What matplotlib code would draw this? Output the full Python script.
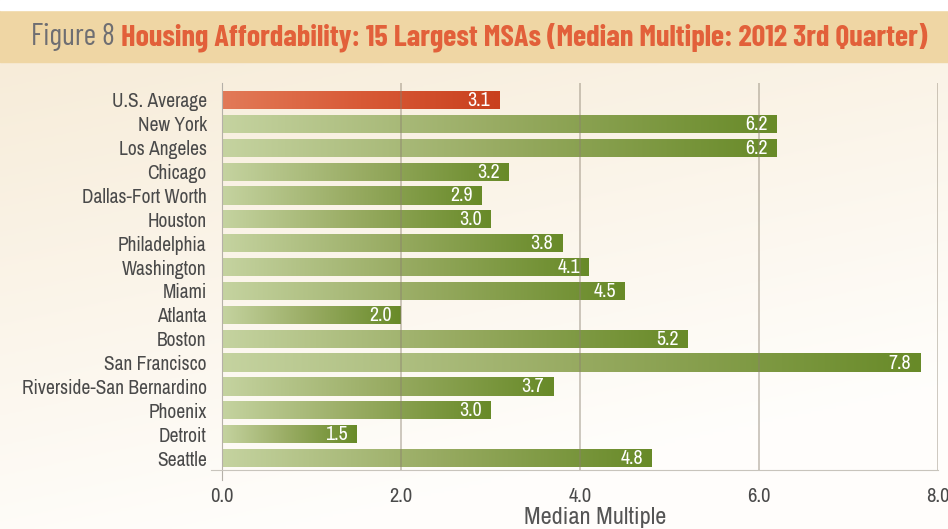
import numpy as np
import matplotlib
matplotlib.use("Agg")
import matplotlib.pyplot as plt
from matplotlib.colors import LinearSegmentedColormap

categories = ["U.S. Average", "New York", "Los Angeles", "Chicago", "Dallas-Fort Worth",
              "Houston", "Philadelphia", "Washington", "Miami", "Atlanta", "Boston",
              "San Francisco", "Riverside-San Bernardino", "Phoenix", "Detroit", "Seattle"]
values = [3.1, 6.2, 6.2, 3.2, 2.9, 3.0, 3.8, 4.1, 4.5, 2.0, 5.2, 7.8, 3.7, 3.0, 1.5, 4.8]
xticks = [0.0, 2.0, 4.0, 6.0, 8.0]
xtick_labels = ["0.0", "2.0", "4.0", "6.0", "8.0"]
title_prefix = "Figure 8 "
title_main = "Housing Affordability: 15 Largest MSAs (Median Multiple: 2012 3rd Quarter)"
xlabel = "Median Multiple"

TFONT = ["Barlow Condensed", "DejaVu Sans"]
FONT = ["Archivo Narrow", "DejaVu Sans"]
plt.rcParams["font.family"] = FONT

W, H = 948, 529
fig = plt.figure(figsize=(W / 100, H / 100), dpi=100)

# background
bg = fig.add_axes([0, 0, 1, 1], zorder=-10)
bg.set_axis_off()
yy = np.linspace(0, 1, 200)[:, None]
xx = np.linspace(0, 1, 300)[None, :]
c_top = np.array([0.965, 0.918, 0.835])
c_bot = np.array([1.0, 0.995, 0.985])
t = np.clip((yy) * 0.9 + xx * 0.35, 0, 1)[..., None]
img = c_top * (1 - t) + c_bot * t
bg.imshow(img, extent=[0, 1, 0, 1], aspect="auto", origin="upper")
bg.add_patch(plt.Rectangle((0.0, 1 - 62 / H), 1, 52 / H, color="#efd6a4", zorder=2))
bg.add_patch(plt.Rectangle((0.0, 1 - 10 / H), 1, 10 / H, color="white", zorder=3))
bg.set_xlim(0, 1)
bg.set_ylim(0, 1)

# title, fitted to span the reference width
fs = 20
tx0, tx1 = 31, 928
ty = 1 - 37 / H
t1 = fig.text(tx0 / W, ty, title_prefix, color="#6e6e72", fontsize=fs,
              va="center", ha="left", family=TFONT)
fig.canvas.draw()
r = fig.canvas.get_renderer()
bb = t1.get_window_extent(r)
t2 = fig.text(bb.x1 / W, ty, title_main, color="#e2603a", fontsize=fs,
              fontweight="bold", va="center", ha="left", family=TFONT)
bb2 = t2.get_window_extent(r)
scale = (tx1 - tx0) / (bb2.x1 - bb.x0)
t1.set_fontsize(fs * scale)
t2.set_fontsize(fs * scale)
bb = t1.get_window_extent(r)
t2.set_x(bb.x1 / W)

left, right = 222 / W, 938 / W
bottom, top = 1 - 470 / H, 1 - 83 / H
ax = fig.add_axes([left, bottom, right - left, top - bottom])
ax.patch.set_alpha(0)

# label font size so the longest label spans ~185 px
probe = fig.text(0, 0, max(categories, key=len), fontsize=12)
pw = probe.get_window_extent(r).width
probe.remove()
lfs = 12 * 185 / pw

n = len(categories)
ypos = np.arange(n)
h = 0.76
green = LinearSegmentedColormap.from_list("g", ["#c5d3a0", "#98ab62", "#688a28"])
red = LinearSegmentedColormap.from_list("r", ["#e27a58", "#d85a36", "#c9401e"])
grad = np.linspace(0, 1, 256)[None, :]

bars = ax.barh(ypos, values, height=h, color="none", edgecolor="none", zorder=2)
for i, (b, v) in enumerate(zip(bars, values)):
    cmap = red if i == 0 else green
    im = ax.imshow(grad, cmap=cmap, extent=[0, v, i - h / 2, i + h / 2],
                   aspect="auto", zorder=2, interpolation="bilinear")
    im.set_clip_path(b)
    ax.text(v - 0.1, i + 0.02, f"{v:.1f}", color="white", fontsize=lfs * 1.02,
            ha="right", va="center", zorder=4)

ax.set_xlim(0, 8)
ax.set_ylim(15.5, -0.71)
for xv in xticks[1:]:
    ax.axvline(xv, color="#8a7f6e", alpha=0.45, lw=1.3, zorder=3)

ax.set_yticks(ypos)
ax.set_yticklabels(categories, fontsize=lfs, color="#4a4a4a")
ax.set_xticks(xticks)
ax.set_xticklabels(xtick_labels, fontsize=lfs * 1.05, color="#4a4a4a")
ax.tick_params(axis="y", length=0, pad=11)
ax.tick_params(axis="x", length=0, pad=12)
ax.set_xlabel(xlabel, fontsize=lfs * 1.25, color="#555555")
ax.xaxis.set_label_coords((595 - 222) / (938 - 222), -47 / 387)
ax.xaxis.label.set_va("center")

for s in ["top", "right"]:
    ax.spines[s].set_visible(False)
ax.spines["left"].set_color("#b5b0a8")
ax.spines["bottom"].set_color("#c8c4bc")
ax.spines["left"].set_bounds(15.9, -0.71)
ax.spines["bottom"].set_bounds(-0.12, 8)
ax.spines["left"].set_clip_on(False)
ax.spines["bottom"].set_clip_on(False)

fig.savefig("out.png", dpi=100)
